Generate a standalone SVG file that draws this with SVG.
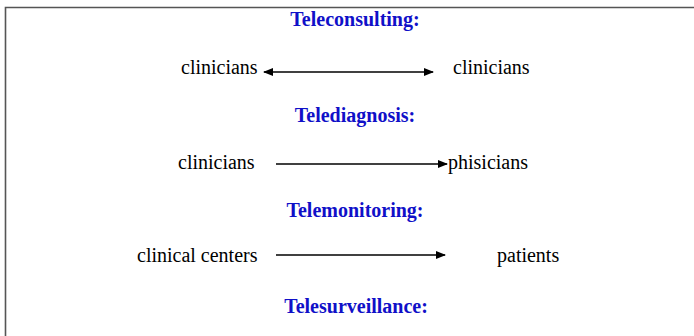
<svg xmlns="http://www.w3.org/2000/svg" width="694" height="336" viewBox="0 0 694 336">
<style>
.t{font-family:"Liberation Serif","Times New Roman",serif;font-weight:bold;font-size:20px;fill:#1010c8;text-anchor:middle}
.n{font-family:"Liberation Serif","Times New Roman",serif;font-size:20px;fill:#000}
.c{stroke:#000;stroke-width:1.6;fill:none}
</style>
<defs>
<marker id="ah" viewBox="0 0 10 8" refX="9" refY="4" markerWidth="10" markerHeight="8" markerUnits="userSpaceOnUse" orient="auto-start-reverse">
<path d="M0,0 L10,4 L0,8 z" fill="#000"/>
</marker>
</defs>
<rect x="0" y="0" width="694" height="336" fill="#fff"/>
<path d="M5.5,336 V7.5 H694" fill="none" stroke="#555" stroke-width="1.6"/>
<g id="title-teleconsulting"><text class="t" x="355" y="26">Teleconsulting:</text></g>
<g id="n-clinicians-1a"><text class="n" x="181" y="74">clinicians</text></g>
<g id="n-clinicians-1b"><text class="n" x="453" y="74">clinicians</text></g>
<g id="title-telediagnosis"><text class="t" x="355" y="122">Telediagnosis:</text></g>
<g id="n-clinicians-2"><text class="n" x="178" y="169">clinicians</text></g>
<g id="n-phisicians"><text class="n" x="448" y="169">phisicians</text></g>
<g id="title-telemonitoring"><text class="t" x="355" y="217">Telemonitoring:</text></g>
<g id="n-clinical-centers"><text class="n" x="137" y="262">clinical centers</text></g>
<g id="n-patients"><text class="n" x="497" y="262">patients</text></g>
<g id="title-telesurveillance"><text class="t" x="356" y="313">Telesurveillance:</text></g>
<g id="connectors">
<line class="c" x1="264" y1="72" x2="433" y2="72" marker-start="url(#ah)" marker-end="url(#ah)"/>
<line class="c" x1="276" y1="164" x2="447" y2="164" marker-end="url(#ah)"/>
<line class="c" x1="276" y1="255" x2="445" y2="255" marker-end="url(#ah)"/>
</g>
</svg>
